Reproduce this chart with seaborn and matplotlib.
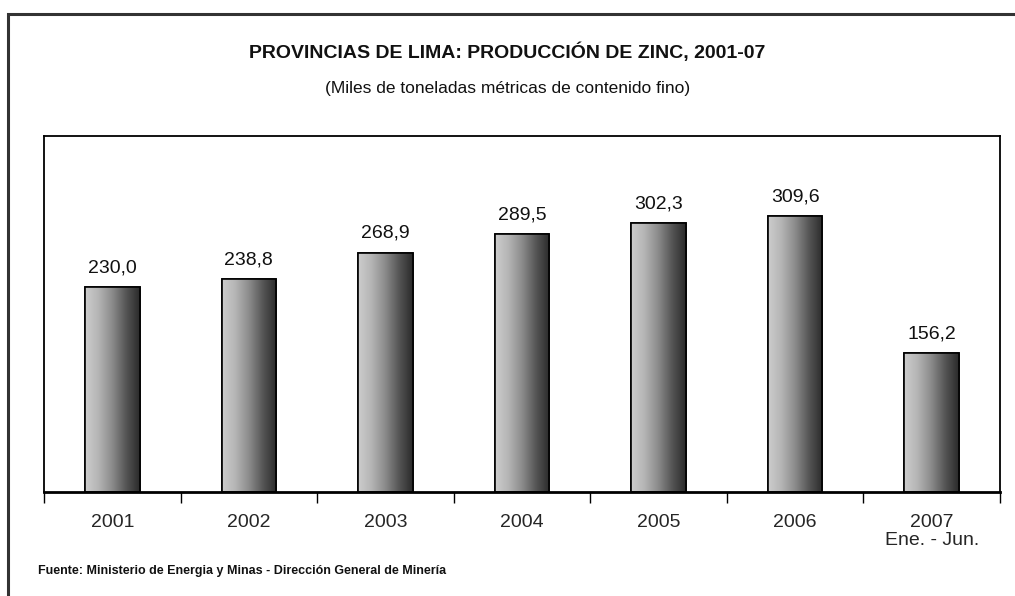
import numpy as np
import pandas as pd
import seaborn as sns
import matplotlib
matplotlib.use("Agg")
from matplotlib import pyplot as plt
from matplotlib.patches import Rectangle
from matplotlib.colors import LinearSegmentedColormap

# datos
years = ["2001", "2002", "2003", "2004", "2005", "2006", "2007\nEne. - Jun."]
zinc = [230.0, 238.8, 268.9, 289.5, 302.3, 309.6, 156.2]

sns.set_style("white")
plt.rcParams['font.family'] = ['Liberation Sans Narrow', 'Liberation Sans', 'DejaVu Sans']

df = pd.DataFrame({"anio": years, "zinc": zinc})

fig = plt.figure(figsize=(10.15, 5.96), dpi=100)
W, H = 1015, 596
ax = fig.add_axes([44 / W, 1 - 492 / H, 956 / W, 356 / H])

sns.barplot(data=df, x="anio", y="zinc", ax=ax, color="white", width=0.4,
            edgecolor="black", linewidth=1.2, saturation=1)

# degradado horizontal dentro de cada barra
cmap = LinearSegmentedColormap.from_list(
    "gris", ["#cdcdcd", "#b4b4b4", "#8a8a8a", "#555555", "#2a2a2a"])
grad = np.linspace(0, 1, 256).reshape(1, -1)
for p in ax.patches:
    x0, y0 = p.get_x(), p.get_y()
    w, h = p.get_width(), p.get_height()
    im = ax.imshow(grad, cmap=cmap, aspect="auto", extent=[x0, x0 + w, y0, y0 + h],
                   zorder=p.get_zorder() + 0.1)
    im.set_clip_path(p)
    ax.add_patch(Rectangle((x0, y0), w, h, fill=False, edgecolor="black",
                           linewidth=1.2, zorder=p.get_zorder() + 0.2))

ax.set_ylim(0, 400)
ax.set_xlim(-0.5, len(years) - 0.5)

for i, v in enumerate(zinc):
    ax.text(i, v + 12, f"{v:.1f}".replace(".", ","), ha="center", va="bottom",
            fontsize=14, color="#111111")

ax.set_xlabel("")
ax.set_ylabel("")
ax.set_yticks([])
ax.set_xticks(range(len(years)))
ax.set_xticklabels(years, fontsize=14, linespacing=1.05)
ax.tick_params(axis="x", which="major", bottom=True, length=0, pad=16)
ax.set_xticks(np.arange(-0.5, len(years), 1), minor=True)
ax.tick_params(axis="x", which="minor", bottom=True, length=8, width=1,
               direction="out", color="black")

for s in ["left", "top", "right"]:
    ax.spines[s].set_visible(True)
    ax.spines[s].set_color("black")
    ax.spines[s].set_linewidth(1.3)
ax.spines["bottom"].set_color("black")
ax.spines["bottom"].set_linewidth(2)

# titulos
fig.text(0.5, 1 - 52 / H, "PROVINCIAS DE LIMA: PRODUCCIÓN DE ZINC, 2001-07",
         ha="center", va="center", fontsize=14, fontweight="bold", color="#111111")
fig.text(0.5, 1 - 89 / H, "(Miles de toneladas métricas de contenido fino)",
         ha="center", va="center", fontsize=12.5, color="#111111")
fig.text(38 / W, 1 - 571 / H,
         "Fuente: Ministerio de Energia y Minas - Dirección General de Minería",
         ha="left", va="center", fontsize=9, fontweight="bold", color="#111111")

# marco exterior
fig.patches.append(Rectangle((8 / W, -0.1), 1.2, 1 - 14 / H + 0.1, transform=fig.transFigure,
                             fill=False, edgecolor="#333333", linewidth=2.2, clip_on=False))

fig.savefig("out.png", dpi=100)
